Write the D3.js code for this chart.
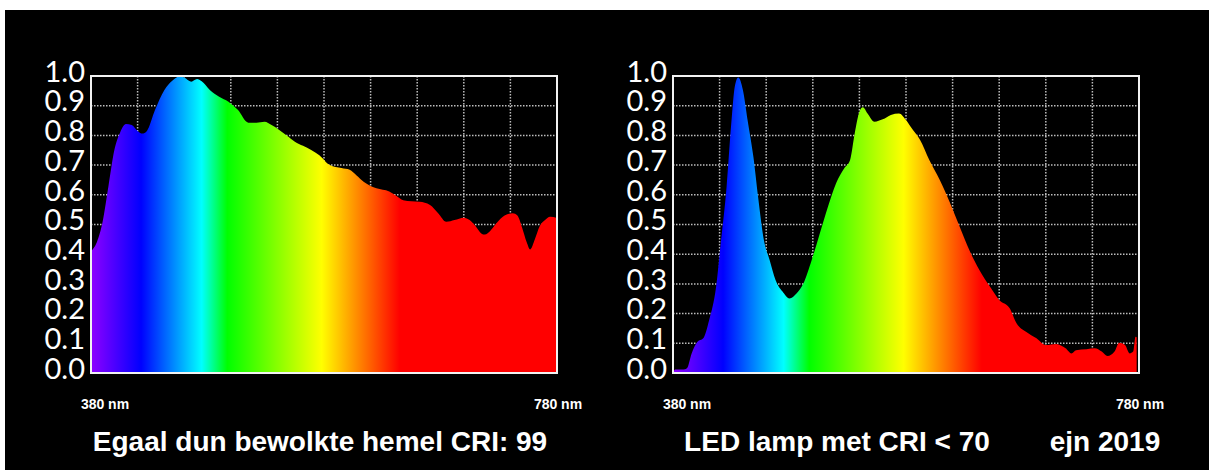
<!DOCTYPE html>
<html>
<head>
<meta charset="utf-8">
<script src="https://cdn.jsdelivr.net/npm/d3@7"></script>
<style>
  html, body { margin: 0; padding: 0; background: #fff; }
  svg { display: block; }
</style>
</head>
<body>
<script>
// spectra (relative power, 0..1)
var skyNm = [380, 385, 390, 395, 400, 405, 410, 415, 420, 424, 428, 435, 443, 450, 456, 460, 466, 471, 475, 482, 490, 498, 506, 515, 522, 529, 535, 541, 548, 555, 562, 569, 576, 585, 595, 602, 608, 614, 620, 625, 636, 642, 648, 655, 662, 671, 678, 685, 692, 700, 705, 710, 715, 718, 723, 728, 735, 742, 746, 750, 754, 757, 761, 765, 770, 774, 780];
var skyVal = [0.41, 0.44, 0.51, 0.63, 0.75, 0.81, 0.838, 0.835, 0.815, 0.806, 0.815, 0.886, 0.953, 0.985, 0.998, 0.995, 0.981, 0.99, 0.982, 0.953, 0.93, 0.913, 0.886, 0.843, 0.843, 0.846, 0.835, 0.82, 0.80, 0.779, 0.765, 0.751, 0.733, 0.70, 0.69, 0.684, 0.665, 0.644, 0.63, 0.622, 0.611, 0.597, 0.582, 0.578, 0.577, 0.566, 0.538, 0.509, 0.515, 0.523, 0.515, 0.495, 0.47, 0.466, 0.48, 0.504, 0.53, 0.538, 0.53, 0.49, 0.44, 0.416, 0.45, 0.493, 0.516, 0.526, 0.522];

var ledNm = [380, 382, 389, 392, 396, 401, 406, 411, 417, 421, 426, 430, 433, 436, 440, 444, 449, 453, 458, 463, 468, 474, 480, 486, 492, 499, 506, 513, 520, 527, 532, 536, 540, 543, 547, 553, 560, 567, 574, 580, 584, 592, 600, 609, 618, 626, 635, 643, 652, 660, 669, 675, 683, 692, 700, 709, 717, 722, 726, 735, 742, 748, 753, 759, 763, 768, 772, 775, 777, 778];
var ledVal = [0.0, 0.012, 0.012, 0.016, 0.066, 0.105, 0.117, 0.178, 0.29, 0.437, 0.627, 0.84, 0.964, 0.995, 0.953, 0.852, 0.728, 0.594, 0.448, 0.38, 0.313, 0.274, 0.251, 0.268, 0.302, 0.38, 0.47, 0.56, 0.639, 0.689, 0.717, 0.807, 0.88, 0.895, 0.874, 0.846, 0.854, 0.869, 0.874, 0.852, 0.829, 0.785, 0.717, 0.65, 0.571, 0.493, 0.408, 0.347, 0.291, 0.246, 0.218, 0.167, 0.139, 0.117, 0.094, 0.098, 0.083, 0.066, 0.077, 0.080, 0.083, 0.072, 0.057, 0.072, 0.102, 0.094, 0.066, 0.072, 0.122, 0.12];

// colour stops of the spectrum fill
var stopNm = [380, 423, 475, 497, 578, 645, 780];
var stopColor = ["#8f00ff", "#0000ff", "#00ffff", "#00ff00", "#ffff00", "#ff0000", "#ff0000"];

var yTicks = [0, 0.1, 0.2, 0.3, 0.4, 0.5, 0.6, 0.7, 0.8, 0.9, 1.0];
var xGrid = [420, 460, 500, 540, 580, 620, 660, 700, 740];
var nmLabels = ["380 nm", "780 nm"];
var titles = ["Egaal dun bewolkte hemel CRI: 99", "LED lamp met CRI < 70"];
var signature = "ejn 2019";

var width = 1209, height = 470;

var svg = d3.select("body").append("svg")
    .attr("width", width)
    .attr("height", height);

// white margin top/left, black picture
svg.append("rect").attr("x", 0).attr("y", 0).attr("width", width).attr("height", height).attr("fill", "#fff");
svg.append("rect").attr("x", 5).attr("y", 10).attr("width", width - 5).attr("height", height - 10).attr("fill", "#000");

var defs = svg.append("defs");

function drawPanel(id, left, nm, val) {
    var top = 76, bottom = 373, right = left + 466;

    var x = d3.scaleLinear().domain([380, 780]).range([left, right]);
    var y = d3.scaleLinear().domain([0, 1]).range([bottom, top]);

    var grad = defs.append("linearGradient")
        .attr("id", id)
        .attr("gradientUnits", "userSpaceOnUse")
        .attr("x1", x(380)).attr("x2", x(780))
        .attr("y1", 0).attr("y2", 0);
    grad.selectAll("stop")
        .data(stopNm)
        .enter().append("stop")
        .attr("offset", function(d) { return (d - 380) / 400; })
        .attr("stop-color", function(d, i) { return stopColor[i]; });

    var g = svg.append("g");

    // dotted grid
    g.selectAll(".hgrid")
        .data(yTicks.slice(1, 10))
        .enter().append("line")
        .attr("x1", left).attr("x2", right)
        .attr("y1", function(d) { return y(d); })
        .attr("y2", function(d) { return y(d); })
        .attr("stroke", "#bdbdbd")
        .attr("stroke-width", 1.5)
        .attr("stroke-dasharray", "1.5,1.5");
    g.selectAll(".vgrid")
        .data(xGrid)
        .enter().append("line")
        .attr("x1", function(d) { return x(d); })
        .attr("x2", function(d) { return x(d); })
        .attr("y1", top).attr("y2", bottom)
        .attr("stroke", "#bdbdbd")
        .attr("stroke-width", 1.5)
        .attr("stroke-dasharray", "1.5,1.5");

    var pts = nm.map(function(d, i) { return [d, val[i]]; });
    var area = d3.area()
        .x(function(d) { return x(d[0]); })
        .y0(bottom)
        .y1(function(d) { return y(d[1]); })
        .curve(d3.curveMonotoneX);

    g.append("path")
        .datum(pts)
        .attr("d", area)
        .attr("fill", "url(#" + id + ")");

    // frame
    g.append("rect")
        .attr("x", left).attr("y", top)
        .attr("width", right - left).attr("height", bottom - top)
        .attr("fill", "none")
        .attr("stroke", "#f2f2f2")
        .attr("stroke-width", 2);

    // y labels
    var yAxis = d3.axisLeft(y).tickValues(yTicks).tickFormat(d3.format(".1f")).tickSize(0).tickPadding(0);
    var ax = g.append("g").attr("transform", "translate(" + (left - 6) + ",-4)").call(yAxis);
    ax.select(".domain").remove();
    ax.selectAll("text")
        .attr("fill", "#fff")
        .attr("font-family", "Lato, sans-serif")
        .attr("font-weight", 400)
        .attr("font-size", "29px");

    // nm labels
    g.selectAll(".nm")
        .data(nmLabels)
        .enter().append("text")
        .attr("x", function(d, i) { return i === 0 ? x(380) + 14 : x(780) + 1; })
        .attr("y", 409)
        .attr("text-anchor", "middle")
        .attr("fill", "#fff")
        .attr("font-family", "'Liberation Sans', Arial, sans-serif")
        .attr("font-weight", "bold")
        .attr("font-size", "14px")
        .text(function(d) { return d; });

    return g;
}

drawPanel("spec1", 91, skyNm, skyVal);
drawPanel("spec2", 673, ledNm, ledVal);

svg.selectAll(".title")
    .data([[320, titles[0]], [837, titles[1]], [1105, signature]])
    .enter().append("text")
    .attr("x", function(d) { return d[0]; })
    .attr("y", 451)
    .attr("text-anchor", "middle")
    .attr("fill", "#fff")
    .attr("font-family", "'Liberation Sans', Arial, sans-serif")
    .attr("font-weight", "bold")
    .attr("font-size", "28px")
    .text(function(d) { return d[1]; });
</script>
</body>
</html>
